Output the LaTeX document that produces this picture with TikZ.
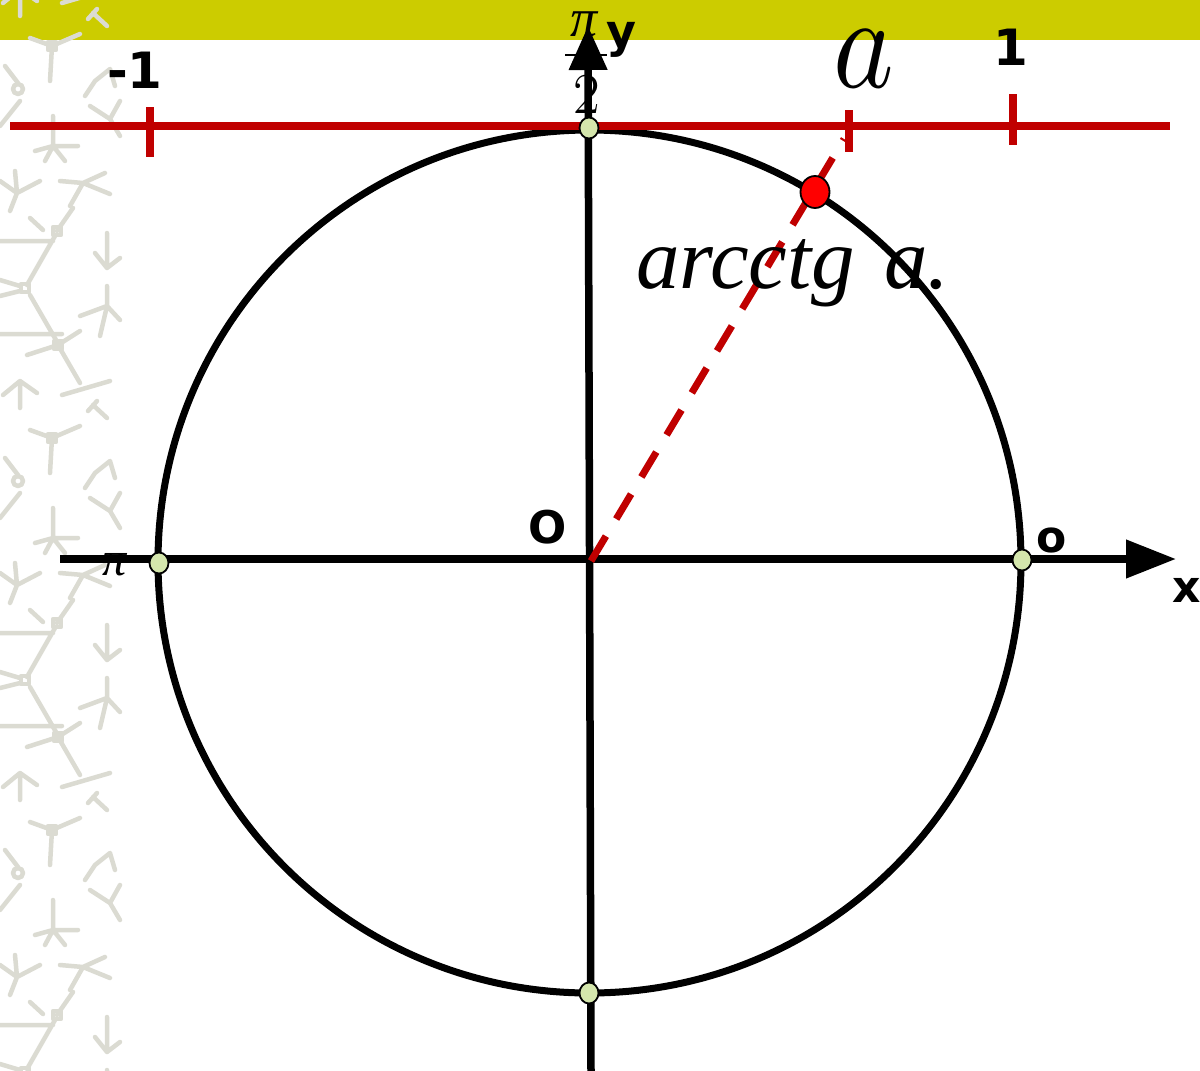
\documentclass[tikz,border=0pt]{standalone}
\usepackage{fontspec}
\usetikzlibrary{arrows.meta}
\newfontfamily\djv{DejaVu Sans}
\newfontfamily\libser{Liberation Serif}
\definecolor{bandyellow}{RGB}{204,204,0}
\definecolor{axisred}{RGB}{192,0,0}
\definecolor{dotred}{RGB}{255,0,0}
\definecolor{ptgreen}{RGB}{212,230,172}
\definecolor{patgrey}{RGB}{219,219,210}
\tikzset{
  axisline/.style={line width=7.5pt, black},
  redline/.style={line width=7.5pt, axisred},
  ticklbl/.style={font=\djv\bfseries\fontsize{50}{50}\selectfont, inner sep=0pt, anchor=base},
  smallpt/.style={draw=black, line width=1.8pt, fill=ptgreen},
  patline/.style={line width=4.5pt, patgrey, line cap=round, line join=round},
  mathlbl/.style={inner sep=0pt, anchor=base},
}
\begin{document}
\begin{tikzpicture}[x=1pt,y=-1pt]
\useasboundingbox (0,0) rectangle (1200,1071);
\fill[white] (0,0) rectangle (1200,1071);
% top band
\fill[bandyellow] (0,0) rectangle (1200,40);
% background pattern (left strip)
\begin{scope}
\clip (0,0) rectangle (124,1071);
\foreach \oy in {-184,208,600,992}{
 \begin{scope}[shift={(0,\oy)}]
  \draw[patline] (0,33)--(53,33) (57,23)--(73,0) (30,10)--(43,22) (55,28)--(27,77);
  \draw[patline] (53,19) rectangle (61,27);
  \draw[patline] (0,72)--(20,78) (0,88)--(20,83) (30,87)--(56,132);
  \draw[patline] (21,76) rectangle (29,84);
  \draw[patline] (0,126)--(62,126) (58,137)--(80,123) (58,137)--(27,147) (58,137)--(80,175);
  \draw[patline] (54,133) rectangle (62,141);
  \draw[patline] (62,187)--(110,173);
  \draw[patline] (3,187)--(20,173)--(37,185) (20,173)--(20,200);
  \draw[patline] (107,25)--(107,60) (95,45)--(107,60)--(120,50);
  \draw[patline] (80,108)--(107,98)--(100,128) (107,98)--(120,112) (107,98)--(107,78);
  \draw[patline] (93,197)--(107,210) (88,203)--(97,193);
  \draw[patline] (30,222)--(52,230)--(80,218) (52,230)--(50,265);
  \draw[patline] (48,226) rectangle (56,234);
  \draw[patline] (85,280)--(95,265)--(110,253)--(115,270);
  \draw[patline] (5,250)--(18,267) (20,285)--(0,310);
  \draw[patline] (18,273) circle[radius=5];
  \draw[patline] (90,290)--(110,303)--(120,285) (110,303)--(120,320);
  \draw[patline] (53,300)--(53,330) (35,335)--(53,330)--(78,330) (53,330)--(65,345) (53,330)--(45,345);
  \draw[patline] (0,365)--(17,377)--(40,365) (17,377)--(15,355) (17,377)--(10,395);
  \draw[patline] (60,365)--(83,367)--(105,357) (83,367)--(110,378) (83,367)--(70,390);
 \end{scope}
}
\end{scope}

% coordinates
\coordinate (O) at (591,561);
\coordinate (xstart) at (60,559);
\coordinate (xend) at (1176,559);
\coordinate (ybot) at (591,1071);
\coordinate (ytop) at (588,26);
\coordinate (rl) at (10,126);
\coordinate (rr) at (1170,126);
\coordinate (dashend) at (844,139);

% fraction pi/2 (drawn under the y axis arrow)
\node[mathlbl, font=\libser\itshape\fontsize{54}{54}\selectfont] (fracpi) at (584,36) {π};
\draw[line width=2.5pt] (565,55) -- (607,55);
\node[mathlbl, font=\fontsize{58}{58}\selectfont] (fractwo) at (587,113) {2};

% circle
\draw[line width=7pt] (589.5,561.5) circle[radius=431.5];

% red number line
\draw[redline] (rl) -- (rr);
\draw[redline] (150,107) -- (150,157);
\draw[redline] (849,110) -- (849,152);
\draw[redline] (1013,94) -- (1013,145);

% axes
\draw[axisline, -{Triangle[length=50pt,width=37pt]}] (xstart) -- (xend);
\draw[axisline, -{Triangle[length=44pt,width=37pt]}] (ybot) -- (ytop);

% dashed ray
\draw[axisred, line width=7pt, dash pattern=on 29pt off 20pt] (O) -- (dashend);

% points
\draw[smallpt] (589,128) ellipse[x radius=9.5, y radius=10.5];
\draw[smallpt] (159,563) ellipse[x radius=9.5, y radius=10.5];
\draw[smallpt] (1022,560) ellipse[x radius=9.5, y radius=10.5];
\draw[smallpt] (589,993) ellipse[x radius=9.5, y radius=10.5];
\draw[draw=black, line width=1.8pt, fill=dotred] (815,192) ellipse[x radius=14.5, y radius=16];

% labels
\node[ticklbl] (lm1) at (135,88) {-1};
\node[ticklbl] (l1) at (1011,65) {1};
\node[mathlbl, xscale=11.5, yscale=13.3] (la) at (864,87) {$a$};
\node[inner sep=0pt, anchor=base, font=\djv\bfseries\fontsize{45}{45}\selectfont] (lO) at (548,543) {O};
\node[inner sep=0pt, anchor=base, font=\djv\bfseries\fontsize{44}{44}\selectfont] (lo) at (1052,552) {o};
\node[inner sep=0pt, anchor=base west, font=\djv\bfseries\fontsize{44}{44}\selectfont] (lx) at (1172,602) {x};
\node[inner sep=0pt, anchor=base, font=\djv\bfseries\fontsize{46}{46}\selectfont] (ly) at (621,47) {y};
\node[mathlbl, font=\libser\itshape\fontsize{48}{48}\selectfont] (lpi) at (115,575) {π};
\node[inner sep=0pt, anchor=base west, font=\libser\itshape\fontsize{87}{87}\selectfont] (arc) at (636,288) {arcctg\,\,a.};
\end{tikzpicture}
\end{document}
